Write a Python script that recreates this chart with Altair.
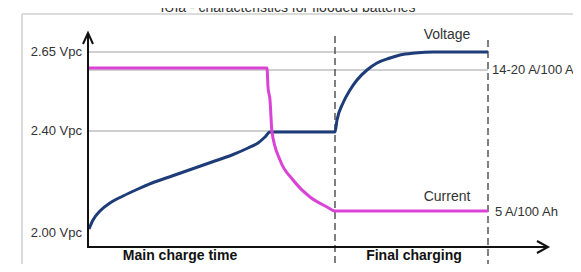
import altair as alt
import pandas as pd

# ---- data (schematic units: time along x, level along y) ----
volt_t = [1, 5, 12, 22, 35, 50, 64, 84, 104, 124, 144, 160, 170, 177, 182,
          247, 249, 255, 262, 269, 279, 289, 302, 312, 327, 345, 400]
volt_v = [18, 27, 36, 44, 51, 58, 64, 71, 78, 85, 92, 99, 104, 110, 115,
          115, 127, 144, 157, 167, 177, 184, 189, 192, 194, 195, 195]

curr_t = [0, 179, 180, 182, 184, 192, 205, 222, 239, 247, 400]
curr_v = [179, 179, 160, 147, 115, 87, 67, 50, 40, 36, 36]

grid_level = [195, 177, 116]          # 2.65 Vpc, 14-20 A/100 Ah, 2.40 Vpc
grid_end = [400, 400, 247]

phase_t = [247, 400]                  # phase boundaries (dashed)
phase_top = [211, 207]
phase_bottom = -24

y_labels = ["2.65 Vpc", "2.40 Vpc", "2.00 Vpc"]
y_label_level = [195, 116, 14]

right_labels = ["14-20 A/100 Ah", "5 A/100 Ah"]
right_label_t = [404, 407]
right_label_level = [177, 35]

series_labels = ["Voltage", "Current"]
series_label_t = [359, 359]
series_label_level = [212, 50]

phase_labels = ["Main charge time", "Final charging"]
phase_label_t = [92, 326]
phase_label_level = -9

title_text = "IUIa - characteristics for flooded batteries"

BLUE = "#1d3c78"
MAGENTA = "#d944d6"

X = alt.Scale(domain=[0, 460])
Y = alt.Scale(domain=[0, 214])

def xe(f):
    return alt.X(f, type="quantitative", scale=X, axis=None)

def ye(f):
    return alt.Y(f, type="quantitative", scale=Y, axis=None)

# frame
frame_df = pd.DataFrame({"x": [-66], "x2": [485], "y": [233], "yb": [-30]})
frame_top = alt.Chart(frame_df).mark_rule(color="#cfcfcf", strokeWidth=1.5).encode(
    x=xe("x"), x2="x2", y=ye("y"))
frame_left = alt.Chart(frame_df).mark_rule(color="#cfcfcf", strokeWidth=1.5).encode(
    x=xe("x"), y=ye("y"), y2="yb")

title = alt.Chart(pd.DataFrame({"t": [200], "v": [235], "s": [title_text]})).mark_text(
    fontSize=14, font="Liberation Sans", color="#333", baseline="alphabetic", align="center"
).encode(x=xe("t"), y=ye("v"), text="s")

grid_df = pd.DataFrame({"x": [0] * 3, "x2": grid_end, "y": grid_level})
grid = alt.Chart(grid_df).mark_rule(color="#a0a0a0", strokeWidth=1).encode(
    x=xe("x"), x2="x2", y=ye("y"))

phase_df = pd.DataFrame({"x": phase_t, "y": phase_top, "y2": [phase_bottom] * 2})
phase = alt.Chart(phase_df).mark_rule(color="#555", strokeWidth=1.5, strokeDash=[7, 4]).encode(
    x=xe("x"), y=ye("y"), y2="y2")

axes_df = pd.DataFrame({
    "t": [0, 0, 0, 460, -5, 0, 5, 449, 460, 449],
    "v": [214, 0, 0, 0, 203, 214, 203, 6, 0, -6],
    "g": ["ax"] * 4 + ["ya"] * 3 + ["xa"] * 3,
    "o": [0, 1, 2, 3, 0, 1, 2, 0, 1, 2],
})
axes = alt.Chart(axes_df).mark_line(color="#111", strokeWidth=2).encode(
    x=xe("t"), y=ye("v"), detail="g:N", order="o:Q")

volt = alt.Chart(pd.DataFrame({"t": volt_t, "v": volt_v})).mark_line(
    color=BLUE, strokeWidth=3, interpolate="monotone").encode(x=xe("t"), y=ye("v"))
curr = alt.Chart(pd.DataFrame({"t": curr_t, "v": curr_v})).mark_line(
    color=MAGENTA, strokeWidth=3, interpolate="monotone").encode(x=xe("t"), y=ye("v"))

ylab = alt.Chart(pd.DataFrame({"t": [-6] * 3, "v": y_label_level, "s": y_labels})).mark_text(
    fontSize=13, font="Liberation Sans", color="#333", align="right", baseline="middle"
).encode(x=xe("t"), y=ye("v"), text="s")

rlab = alt.Chart(pd.DataFrame({"t": right_label_t, "v": right_label_level, "s": right_labels})).mark_text(
    fontSize=13, font="Liberation Sans", color="#333", align="left", baseline="middle"
).encode(x=xe("t"), y=ye("v"), text="s")

slab = alt.Chart(pd.DataFrame({"t": series_label_t, "v": series_label_level, "s": series_labels})).mark_text(
    fontSize=14, font="Liberation Sans", color="#333", align="center", baseline="middle"
).encode(x=xe("t"), y=ye("v"), text="s")

plab = alt.Chart(pd.DataFrame({"t": phase_label_t, "v": [phase_label_level] * 2, "s": phase_labels})).mark_text(
    fontSize=14, font="Liberation Sans", fontWeight="bold", color="#111", align="center", baseline="middle"
).encode(x=xe("t"), y=ye("v"), text="s")

chart = alt.layer(
    frame_top, frame_left, title, grid, phase, volt, curr, axes, ylab, rlab, slab, plab
).properties(
    width=460, height=214,
    autosize=alt.AutoSizeParams(type="none"),
    padding={"left": 80, "top": 25, "right": 25, "bottom": 17},
    background="white",
).configure_view(strokeWidth=0)

chart.save("out.html", embed_options={"renderer": "svg", "actions": False})
